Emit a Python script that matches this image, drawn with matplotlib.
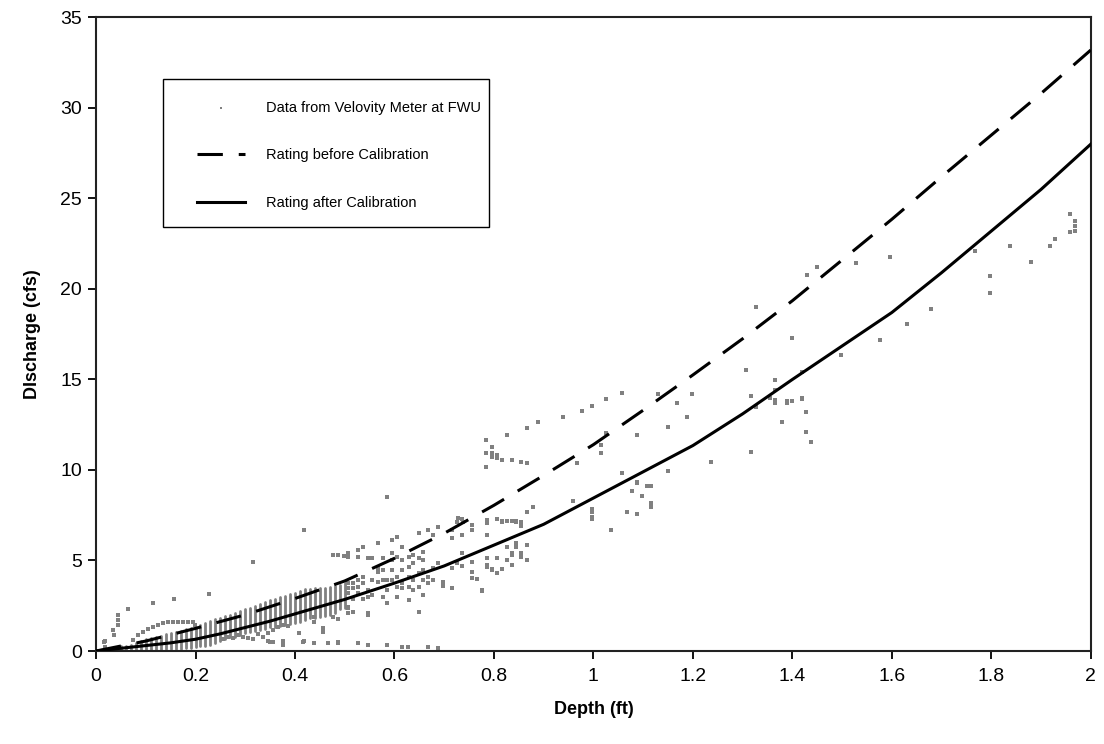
import matplotlib
matplotlib.use("Agg")
import matplotlib.pyplot as plt
from matplotlib.patches import Rectangle
from matplotlib.ticker import FuncFormatter

plt.rcParams['font.family'] = ['Liberation Sans', 'DejaVu Sans']

GREY = "#808080"

# rating curves
depth_before = [0, 0.1, 0.2, 0.3, 0.4, 0.5, 0.6, 0.7, 0.8, 0.9, 1.0,
                1.1, 1.2, 1.3, 1.4, 1.5, 1.6, 1.7, 1.8, 1.9, 2.0]
q_before = [0, 0.55, 1.25, 2.0, 2.9, 3.87, 5.12, 6.5, 8.05, 9.7, 11.4,
            13.3, 15.25, 17.25, 19.35, 21.6, 23.85, 26.2, 28.5, 30.8, 33.2]

depth_after = [0, 0.05, 0.1, 0.15, 0.2, 0.25, 0.3, 0.35, 0.4, 0.5, 0.6, 0.7,
               0.8, 0.9, 1.0, 1.1, 1.2, 1.3, 1.4, 1.5, 1.6, 1.7, 1.8, 1.9, 2.0]
q_after = [0, 0.15, 0.3, 0.45, 0.65, 0.95, 1.3, 1.65, 2.05, 2.85, 3.75, 4.7,
           5.85, 7.0, 8.45, 9.9, 11.35, 13.1, 15.0, 16.85, 18.7, 20.9, 23.2,
           25.5, 28.0]

# dense stacks of meter readings at low depth (one stack per 0.01 ft)
stack_depth = [0.04, 0.05, 0.06, 0.07, 0.08, 0.09, 0.10, 0.11, 0.12, 0.13,
               0.14, 0.15, 0.16, 0.17, 0.18, 0.19, 0.20, 0.21, 0.22, 0.23,
               0.24, 0.25, 0.26, 0.27, 0.28, 0.29, 0.30, 0.31, 0.32, 0.33,
               0.34, 0.35, 0.36, 0.37, 0.38, 0.39, 0.40, 0.41, 0.42, 0.43,
               0.44, 0.45, 0.46, 0.47, 0.48, 0.49, 0.50]
stack_low = [0.05, 0.05, 0.05, 0.05, 0.05, 0.05, 0.05, 0.05, 0.05, 0.05,
             0.1, 0.1, 0.1, 0.1, 0.15, 0.15, 0.2, 0.25, 0.3, 0.35,
             0.45, 0.55, 0.65, 0.75, 0.8, 0.9, 1.0, 1.05, 1.1, 1.15,
             1.2, 1.3, 1.35, 1.4, 1.45, 1.5, 1.55, 1.6, 1.7, 1.8,
             1.85, 1.9, 1.95, 2.0, 2.1, 2.3, 2.4]
stack_high = [0.2, 0.25, 0.3, 0.35, 0.45, 0.55, 0.65, 0.7, 0.8, 0.85,
              0.95, 1.0, 1.05, 1.1, 1.2, 1.25, 1.35, 1.45, 1.55, 1.65,
              1.75, 1.85, 1.95, 2.0, 2.1, 2.2, 2.3, 2.4, 2.5, 2.6,
              2.7, 2.8, 2.9, 3.0, 3.05, 3.15, 3.2, 3.3, 3.4, 3.45,
              3.5, 3.5, 3.5, 3.55, 3.6, 3.65, 3.75]

# scattered meter readings (depth, discharge)
meter_shallow = [
    (0.015, 0.51), (0.017, 0.24), (0.017, 0.55), (0.035, 1.16), (0.036, 0.88),
    (0.045, 1.99), (0.045, 1.71), (0.045, 1.44), (0.065, 2.32), (0.115, 2.63),
    (0.157, 2.87), (0.227, 3.15), (0.316, 4.93), (0.419, 6.68), (0.586, 8.49),
    (0.075, 0.61), (0.085, 0.88), (0.095, 1.07), (0.105, 1.2), (0.115, 1.31),
    (0.125, 1.44), (0.135, 1.56), (0.145, 1.62), (0.155, 1.62), (0.165, 1.62),
    (0.175, 1.62), (0.185, 1.62), (0.195, 1.62), (0.199, 1.44),
]
meter_low = [
    (0.256, 0.65), (0.266, 0.79), (0.276, 0.7), (0.286, 0.88), (0.296, 0.8),
    (0.306, 0.74), (0.316, 0.65), (0.326, 0.94), (0.336, 0.79), (0.346, 0.97),
    (0.356, 1.16), (0.366, 1.3), (0.376, 1.44), (0.386, 1.38), (0.346, 0.57),
    (0.356, 0.5), (0.376, 0.55), (0.376, 0.33), (0.409, 0.97), (0.419, 0.55),
    (0.438, 1.9), (0.438, 1.6), (0.457, 1.25), (0.457, 1.05), (0.438, 0.42),
    (0.467, 0.42), (0.477, 1.9), (0.487, 1.75), (0.487, 0.5), (0.507, 2.36),
    (0.507, 2.1), (0.527, 0.42), (0.546, 0.33), (0.586, 0.33), (0.616, 0.24),
    (0.628, 0.24), (0.668, 0.24), (0.688, 0.15), (0.35, 0.51), (0.417, 0.51),
    (0.487, 0.42), (0.507, 2.45), (0.517, 2.17), (0.546, 2.08), (0.546, 1.99),
    (0.649, 2.17),
]
meter_mid = [
    (0.477, 5.3), (0.487, 5.3), (0.498, 5.25), (0.507, 5.4), (0.507, 5.2),
    (0.527, 5.58), (0.527, 5.2), (0.537, 5.76), (0.546, 5.12), (0.555, 5.12),
    (0.566, 5.95), (0.576, 5.12), (0.596, 6.13), (0.606, 6.32), (0.616, 5.76),
    (0.596, 5.4), (0.606, 5.2), (0.629, 5.2), (0.638, 5.3), (0.649, 6.5),
    (0.658, 5.48), (0.658, 5.03), (0.668, 6.68), (0.678, 6.4), (0.688, 6.87),
    (0.716, 6.68), (0.726, 7.14), (0.736, 7.27), (0.756, 6.96), (0.756, 6.68),
    (0.787, 7.24), (0.787, 7.09), (0.716, 6.22), (0.736, 6.4), (0.787, 6.4),
    (0.507, 3.74), (0.507, 3.46), (0.507, 3.19), (0.517, 3.74), (0.517, 3.46),
    (0.517, 2.9), (0.527, 3.92), (0.527, 3.55), (0.527, 3.19), (0.537, 4.1),
    (0.537, 3.74), (0.537, 2.9), (0.546, 3.37), (0.546, 3.0), (0.555, 3.92),
    (0.555, 3.1), (0.566, 4.57), (0.566, 4.38), (0.566, 3.83), (0.576, 4.47),
    (0.576, 3.92), (0.576, 3.0), (0.586, 3.92), (0.586, 3.37), (0.586, 2.63),
    (0.596, 5.03), (0.596, 4.47), (0.596, 3.92), (0.606, 4.1), (0.606, 3.55),
    (0.606, 3.0), (0.616, 5.03), (0.616, 4.47), (0.616, 3.74), (0.616, 3.46),
    (0.629, 4.66), (0.629, 4.1), (0.629, 3.55), (0.629, 2.82), (0.638, 4.84),
    (0.638, 3.92), (0.638, 3.37), (0.649, 5.12), (0.649, 4.29), (0.649, 3.55),
    (0.658, 4.47), (0.658, 3.92), (0.658, 3.1), (0.668, 4.1), (0.668, 3.74),
    (0.678, 4.57), (0.678, 3.92), (0.688, 4.84), (0.698, 3.83), (0.698, 3.59),
    (0.716, 4.57), (0.716, 3.46), (0.726, 4.84), (0.736, 5.4), (0.736, 4.7),
    (0.756, 4.93), (0.756, 4.38), (0.756, 4.02), (0.766, 3.96), (0.777, 3.37),
    (0.787, 5.12), (0.787, 4.75), (0.797, 4.5), (0.728, 7.33), (0.738, 7.14),
]
meter_upper = [
    (0.785, 11.66), (0.785, 10.92), (0.785, 10.18), (0.797, 11.29),
    (0.797, 10.92), (0.797, 10.74), (0.807, 10.83), (0.807, 10.64),
    (0.817, 10.55), (0.827, 11.93), (0.837, 10.55), (0.855, 10.46),
    (0.866, 10.37), (0.866, 12.3), (0.889, 12.67), (0.938, 12.91),
    (0.978, 13.28), (0.998, 13.54), (1.026, 13.9), (1.057, 14.27),
    (1.026, 12.03), (1.016, 11.38), (1.016, 10.92), (0.968, 10.37),
    (1.087, 11.93), (0.807, 7.3), (0.817, 7.2), (0.817, 7.1), (0.827, 7.2),
    (0.837, 7.2), (0.845, 7.2), (0.845, 7.1), (0.855, 7.1), (0.855, 6.9),
    (0.866, 7.7), (0.879, 7.94), (0.827, 5.76), (0.845, 5.95), (0.845, 5.76),
    (0.866, 5.86), (0.807, 5.12), (0.787, 4.66), (0.837, 5.4), (0.837, 5.3),
    (0.855, 5.4), (0.855, 5.2), (0.827, 5.03), (0.866, 5.03), (0.837, 4.75),
    (0.797, 4.51), (0.807, 4.29), (0.817, 4.51), (0.777, 3.31),
    (0.958, 8.3), (0.998, 7.85), (0.998, 7.7), (0.998, 7.39), (0.998, 7.27),
    (1.036, 6.68), (1.057, 9.82), (1.067, 7.66), (1.077, 8.84), (1.087, 9.36),
    (1.087, 9.27), (1.087, 7.57), (1.097, 8.56), (1.107, 9.12), (1.116, 9.12),
    (1.116, 8.2), (1.116, 7.94),
]
meter_deep = [
    (1.129, 14.18), (1.149, 12.4), (1.168, 13.72), (1.188, 12.91),
    (1.199, 14.18), (1.149, 9.92), (1.237, 10.46), (1.307, 15.52),
    (1.317, 14.09), (1.327, 18.99), (1.317, 11.01), (1.327, 13.46),
    (1.366, 14.97), (1.366, 14.42), (1.366, 13.87), (1.366, 13.72),
    (1.356, 14.0), (1.379, 12.65), (1.389, 13.8), (1.389, 13.72),
    (1.399, 13.8), (1.399, 17.27), (1.419, 15.43), (1.419, 14.0),
    (1.419, 13.9), (1.428, 13.18), (1.428, 12.12), (1.438, 11.57),
    (1.43, 20.8), (1.45, 21.2), (1.497, 16.35), (1.528, 21.42),
    (1.597, 21.79), (1.577, 17.16), (1.63, 18.07), (1.679, 18.87),
    (1.767, 22.12), (1.798, 20.7), (1.798, 19.8), (1.838, 22.4),
    (1.879, 21.5), (1.919, 22.4), (1.929, 22.78), (1.958, 24.12),
    (1.958, 23.13), (1.968, 23.78), (1.968, 23.5), (1.968, 23.2),
]

x_ticks = [0, 0.2, 0.4, 0.6, 0.8, 1.0, 1.2, 1.4, 1.6, 1.8, 2.0]
y_ticks = [0, 5, 10, 15, 20, 25, 30, 35]

meter_points = meter_shallow + meter_low + meter_mid + meter_upper + meter_deep
meter_depth = [p[0] for p in meter_points]
meter_q = [p[1] for p in meter_points]

fig = plt.figure(figsize=(11.04, 7.44), dpi=100)
ax = fig.add_axes([0.087, 0.125, 0.901, 0.8515])

ax.vlines(stack_depth, stack_low, stack_high, colors=GREY, linewidth=2.0,
          capstyle="round", zorder=2)
pts = ax.scatter(meter_depth, meter_q, s=5, marker="s", color=GREY,
                 linewidths=0, zorder=2, label="Data from Velovity Meter at FWU")

before, = ax.plot(depth_before, q_before, color="black", lw=2.2,
                  linestyle=(0, (8.3, 5.2)), zorder=3,
                  label="Rating before Calibration")
after, = ax.plot(depth_after, q_after, color="black", lw=2.2, zorder=3,
                 label="Rating after Calibration")

ax.set_xlim(0, 2)
ax.set_ylim(0, 35)
ax.set_xticks(x_ticks)
ax.set_yticks(y_ticks)
ax.xaxis.set_major_formatter(FuncFormatter(lambda v, p: f"{v:g}"))
ax.tick_params(direction="out", length=6, width=1.3, labelsize=14)
ax.tick_params(axis="x", pad=6)
ax.tick_params(axis="y", pad=4)
for sp in ax.spines.values():
    sp.set_linewidth(1.5)
    sp.set_color("#222222")

ax.set_xlabel("Depth (ft)", fontsize=13, fontweight="bold", labelpad=12)
ax.set_ylabel("DIscharge (cfs)", fontsize=13, fontweight="bold", labelpad=14)

# legend box drawn separately: Excel pads the sides more than top/bottom
ax.add_patch(Rectangle((0.0673, 0.669), 0.328, 0.234, transform=ax.transAxes,
                       facecolor="white", edgecolor="black", lw=1.0, zorder=4))
leg = ax.legend(handles=[pts, before, after], loc="upper left",
                bbox_to_anchor=(0.1015, 0.868), fontsize=10.5, frameon=False,
                markerscale=0.4, handlelength=3.3, handletextpad=1.4,
                labelspacing=2.28, borderpad=0, borderaxespad=0)
leg.set_zorder(5)

fig.savefig("out.png", dpi=100)
